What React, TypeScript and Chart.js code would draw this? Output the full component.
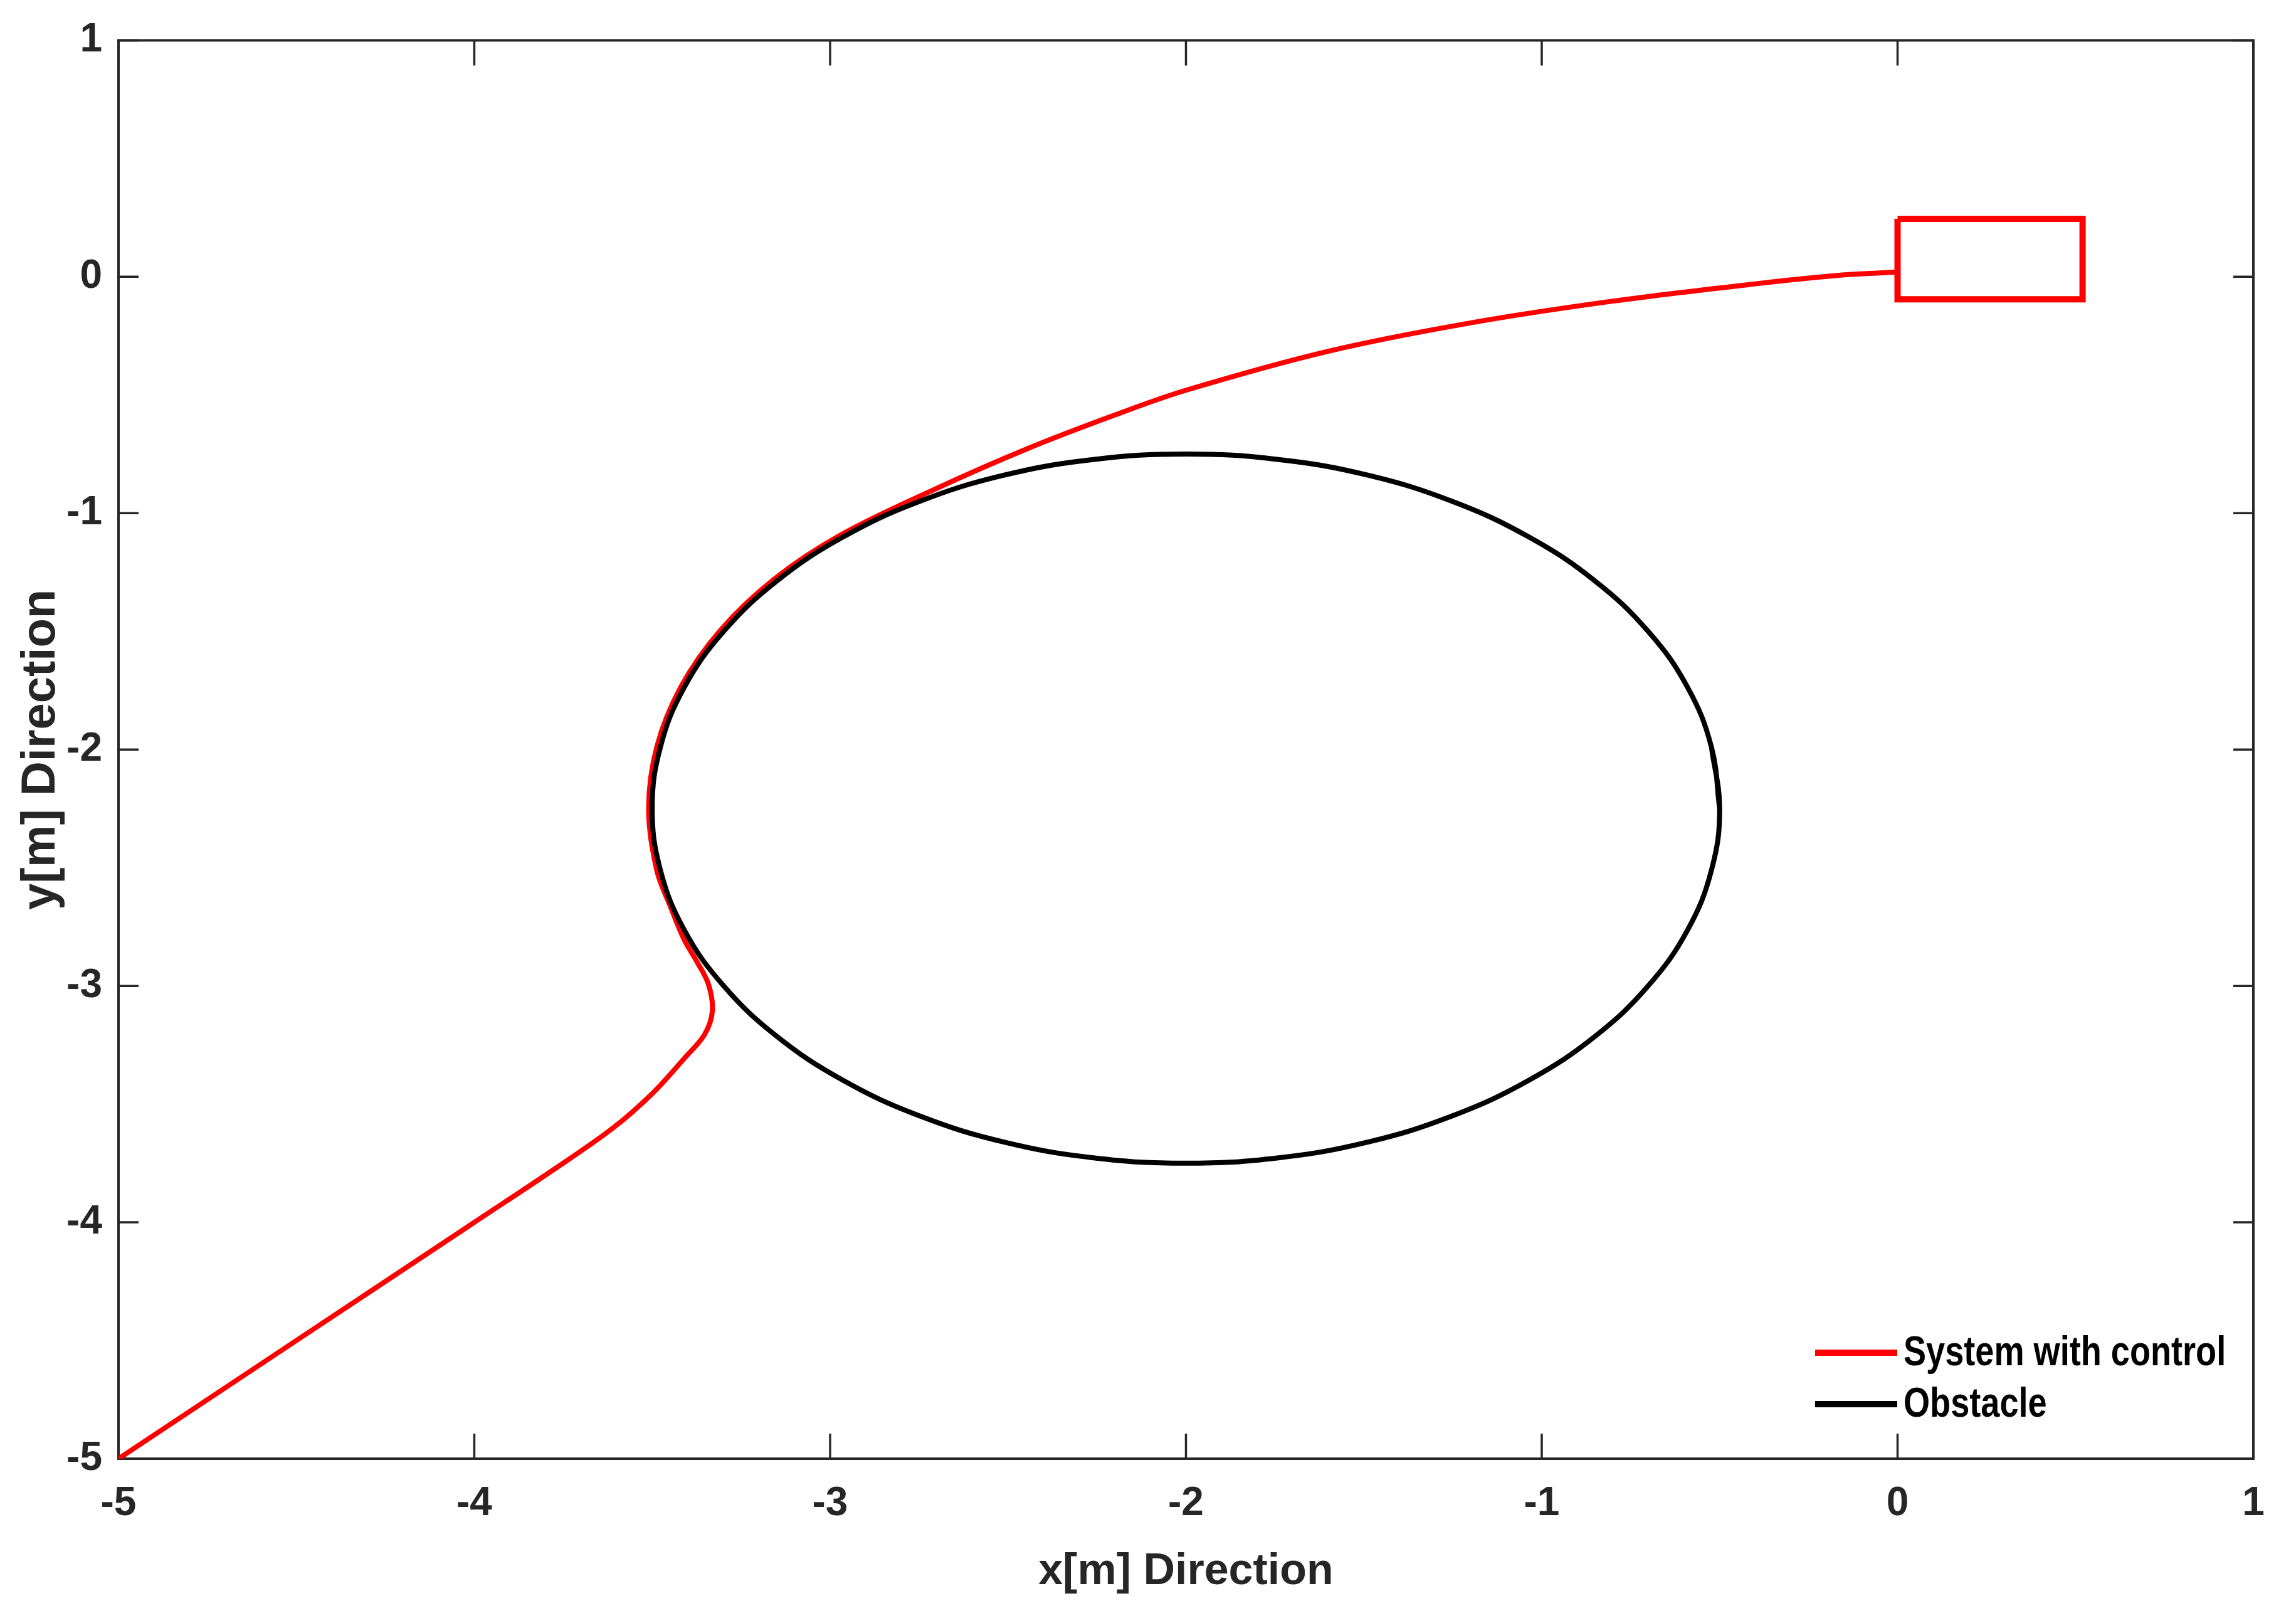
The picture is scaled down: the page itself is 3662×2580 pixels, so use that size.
import React, { useEffect, useRef } from "react";
import { Chart, registerables } from "chart.js";

Chart.register(...registerables);

// ---- data ----
const xTicks = [-5, -4, -3, -2, -1, 0, 1];
const yTicks = [-5, -4, -3, -2, -1, 0, 1];

const seriesLabels = ["System with control", "Obstacle"];

// Controlled trajectory (red)
const trajX = [
  -5, -4.5, -4, -3.78, -3.612, -3.499, -3.409, -3.353, -3.331, -3.342, -3.376,
  -3.41, -3.45, -3.487, -3.51, -3.487, -3.419, -3.308, -3.157, -2.971, -2.7,
  -2.45, -2.2, -2.0, -1.6, -1.2, -0.8, -0.4, -0.15, 0,
];
const trajY = [
  -5, -4.5, -4, -3.78, -3.603, -3.454, -3.305, -3.206, -3.106, -2.993, -2.893,
  -2.805, -2.66, -2.512, -2.25, -1.988, -1.734, -1.495, -1.279, -1.093, -0.895,
  -0.73, -0.585, -0.48, -0.315, -0.195, -0.103, -0.03, 0.008, 0.02,
];

// Obstacle boundary (black)
const obstacleX = [
  -0.5, -0.523, -0.59, -0.701, -0.851, -1.036, -1.25, -1.487, -1.74, -2,
  -2.26, -2.513, -2.75, -2.964, -3.149, -3.299, -3.41, -3.477, -3.5,
  -3.477, -3.41, -3.299, -3.149, -2.964, -2.75, -2.513, -2.26, -2,
  -1.74, -1.487, -1.25, -1.036, -0.851, -0.701, -0.59, -0.523, -0.5, -0.523,
];
const obstacleY = [
  -2.25, -1.99, -1.737, -1.5, -1.286, -1.101, -0.951, -0.84, -0.773, -0.75,
  -0.773, -0.84, -0.951, -1.101, -1.286, -1.5, -1.737, -1.99, -2.25,
  -2.51, -2.763, -3.0, -3.214, -3.399, -3.549, -3.66, -3.727, -3.75,
  -3.727, -3.66, -3.549, -3.399, -3.214, -3.0, -2.763, -2.51, -2.25, -1.99,
];

// Target box (red rectangle)
const boxX = [0, 0.52, 0.52, 0, 0];
const boxY = [0.245, 0.245, -0.095, -0.095, 0.245];

const toPoints = (xs: number[], ys: number[]) => xs.map((x, i) => ({ x, y: ys[i] }));

const FONT = "'Liberation Sans', Arial, sans-serif";
const AXIS_COLOR = "#262626";

const framePlugin = {
  id: "matlabFrame",
  beforeDatasetsDraw(chart: any) {
    const { ctx, chartArea: ca, scales } = chart;
    ctx.save();
    ctx.strokeStyle = AXIS_COLOR;
    ctx.lineWidth = 4;
    ctx.strokeRect(ca.left, ca.top, ca.right - ca.left, ca.bottom - ca.top);
    ctx.lineWidth = 3.5;
    ctx.beginPath();
    for (const v of xTicks) {
      const px = scales.x.getPixelForValue(v);
      ctx.moveTo(px, ca.bottom);
      ctx.lineTo(px, ca.bottom - 40);
      ctx.moveTo(px, ca.top);
      ctx.lineTo(px, ca.top + 40);
    }
    for (const v of yTicks) {
      const py = scales.y.getPixelForValue(v);
      ctx.moveTo(ca.left, py);
      ctx.lineTo(ca.left + 32, py);
      ctx.moveTo(ca.right, py);
      ctx.lineTo(ca.right - 32, py);
    }
    ctx.stroke();
    ctx.restore();
  },
  afterDraw(chart: any) {
    const { ctx, chartArea: ca } = chart;
    const items = chart.data.datasets.filter((d: any) => d.label);
    const rows = [ca.bottom - 169, ca.bottom - 87];
    ctx.save();
    items.forEach((d: any, i: number) => {
      const y = rows[i];
      ctx.strokeStyle = d.borderColor;
      ctx.lineWidth = 10;
      ctx.beginPath();
      ctx.moveTo(ca.right - 699, y);
      ctx.lineTo(ca.right - 568, y);
      ctx.stroke();
      ctx.save();
      ctx.translate(ca.right - 558, y + 2);
      ctx.scale(0.82, 1);
      ctx.fillStyle = "#000000";
      ctx.font = `bold 66px ${FONT}`;
      ctx.textAlign = "left";
      ctx.textBaseline = "middle";
      ctx.fillText(d.label, 0, 0);
      ctx.restore();
    });
    ctx.restore();
  },
};

export default function App() {
  const canvasRef = useRef<HTMLCanvasElement | null>(null);

  useEffect(() => {
    const canvas = canvasRef.current;
    if (!canvas) return;
    const chart = new Chart(canvas, {
      type: "line",
      data: {
        datasets: [
          {
            label: seriesLabels[0],
            data: toPoints(trajX, trajY),
            borderColor: "#ff0000",
            backgroundColor: "#ff0000",
            borderWidth: 8,
            pointRadius: 0,
            tension: 0.35,
            fill: false,
            order: 2,
          },
          {
            label: seriesLabels[1],
            data: toPoints(obstacleX, obstacleY),
            borderColor: "#000000",
            backgroundColor: "#000000",
            borderWidth: 8,
            pointRadius: 0,
            tension: 0.4,
            fill: false,
            order: 1,
          },
          {
            label: "",
            data: toPoints(boxX, boxY),
            borderColor: "#ff0000",
            backgroundColor: "#ff0000",
            borderWidth: 10,
            pointRadius: 0,
            tension: 0,
            fill: false,
            borderJoinStyle: "miter",
            order: 3,
          },
        ],
      },
      options: {
        animation: false,
        responsive: false,
        devicePixelRatio: 1,
        layout: { padding: { left: 0, top: 61, right: 68, bottom: 0 } },
        plugins: {
          legend: { display: false },
          tooltip: { enabled: false },
        },
        scales: {
          x: {
            type: "linear",
            min: -5,
            max: 1,
            afterBuildTicks: (scale: any) => {
              scale.ticks = xTicks.map((v) => ({ value: v }));
            },
            afterFit: (scale: any) => {
              scale.height = 254;
            },
            grid: { display: false, drawTicks: false },
            border: { display: false },
            ticks: {
              padding: 34,
              color: AXIS_COLOR,
              font: { family: FONT, size: 64, weight: "bold" },
              maxRotation: 0,
            },
            title: {
              display: true,
              text: "x[m] Direction",
              color: AXIS_COLOR,
              font: { family: FONT, size: 70, weight: "bold" },
              padding: { top: 0, bottom: 31 },
            },
          },
          y: {
            type: "linear",
            min: -5,
            max: 1,
            afterBuildTicks: (scale: any) => {
              scale.ticks = yTicks.map((v) => ({ value: v }));
            },
            afterFit: (scale: any) => {
              scale.width = 189;
            },
            grid: { display: false, drawTicks: false },
            border: { display: false },
            ticks: {
              padding: 26,
              color: AXIS_COLOR,
              font: { family: FONT, size: 64, weight: "bold" },
            },
            title: {
              display: true,
              text: "y[m] Direction",
              color: AXIS_COLOR,
              font: { family: FONT, size: 76, weight: "bold" },
              padding: { top: 20, bottom: 0 },
            },
          },
        },
      },
      plugins: [framePlugin],
    } as any);
    return () => chart.destroy();
  }, []);

  return (
    <div style={{ position: "fixed", left: 0, top: 0, width: 3662, height: 2580, background: "#ffffff" }}>
      <canvas ref={canvasRef} width={3662} height={2580} style={{ width: 3662, height: 2580, display: "block" }} />
    </div>
  );
}
